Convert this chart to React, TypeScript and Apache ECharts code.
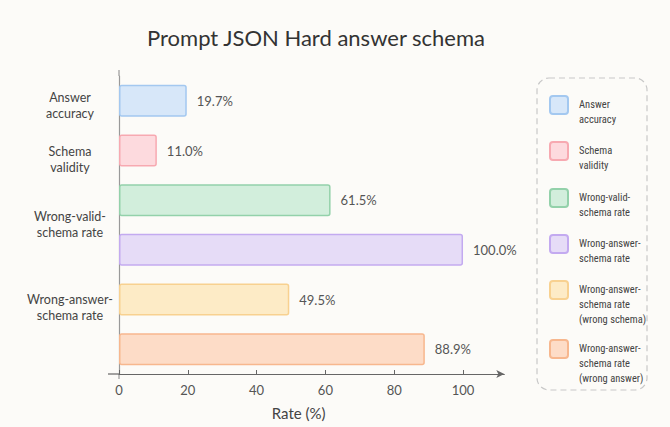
import React, { useEffect, useRef } from "react";
import * as echarts from "echarts";

const categories = [
  "Answer accuracy",
  "Schema validity",
  "Wrong-valid-schema rate",
  "Wrong-answer-schema rate",
  "Wrong-answer-schema rate (wrong schema)",
  "Wrong-answer-schema rate (wrong answer)",
];
const values = [19.7, 11.0, 61.5, 100.0, 49.5, 88.9];
const yTickLabels = [
  ["Answer", "accuracy"],
  ["Schema", "validity"],
  ["Wrong-valid-", "schema rate"],
  [],
  ["Wrong-answer-", "schema rate"],
  [],
];
const legendLabels = [
  ["Answer", "accuracy"],
  ["Schema", "validity"],
  ["Wrong-valid-", "schema rate"],
  ["Wrong-answer-", "schema rate"],
  ["Wrong-answer-", "schema rate", "(wrong schema)"],
  ["Wrong-answer-", "schema rate", "(wrong answer)"],
];
const xTicks = [0, 20, 40, 60, 80, 100];

const fills = ["#d7e7f9", "#fddade", "#d2eedc", "#e6dcf7", "#fdebc6", "#fddcc7"];
const borders = ["#a3c8f0", "#f7a9b1", "#93d1aa", "#c3aaf0", "#f8d190", "#f7b78e"];
const labelShift = [5, 9, 24, 0, 8, 0];
const legendIconTops = [95, 141, 188, 234, 280, 339];

const FONT = "Lato, 'Noto Sans', sans-serif";
const NARROW =
  "'Noto Sans Condensed', 'Roboto Condensed', 'Open Sans Condensed', 'DejaVu Sans Condensed', Lato, sans-serif";

function iconPath(h: number) {
  return (
    "path://M3,0 L15,0 Q18,0 18,3 L18,15 Q18,18 15,18 L3,18 Q0,18 0,15 L0,3 Q0,0 3,0 Z M24," + h
  );
}

export default function App() {
  const ref = useRef<HTMLDivElement>(null);
  useEffect(() => {
    document.body.style.margin = "0";
    if (!ref.current) return;
    const chart = echarts.init(ref.current, undefined, { renderer: "svg" });
    const lineH = 15;
    const legends = categories.map((name, i) => {
      const n = legendLabels[i].length;
      const h = lineH * n + 1.5;
      return {
        orient: "vertical",
        left: 549,
        top: legendIconTops[i],
        padding: 0,
        itemWidth: 24,
        itemHeight: h,
        itemGap: 0,
        icon: iconPath(h),
        selectedMode: false,
        formatter: (nm: string) => legendLabels[categories.indexOf(nm)].join("\n"),
        textStyle: { fontSize: 10.5, lineHeight: lineH, color: "#444", fontFamily: NARROW },
        data: [name],
      };
    });
    const series = categories.map((name, i) => ({
      type: "bar",
      name,
      stack: "all",
      barWidth: 32,
      data: categories.map((_, j) => (j === i ? values[i] : "-")),
      itemStyle: { color: fills[i], borderColor: borders[i], borderWidth: 1.5, borderRadius: 2 },
      label: {
        show: true,
        position: "right",
        distance: 10,
        formatter: (p: any) => Number(p.value).toFixed(1) + "%",
        fontSize: 13,
        color: "#555",
        fontFamily: FONT,
      },
    }));
    const rich: Record<string, any> = {
      l: { fontSize: 12.5, lineHeight: 16, color: "#444", align: "center", fontFamily: FONT },
    };
    labelShift.forEach((s, i) => {
      rich["s" + i] = { fontSize: 1, lineHeight: Math.max(1, s * 2), align: "center" };
    });
    chart.setOption({
      animation: false,
      backgroundColor: "#fcfbf8",
      textStyle: { fontFamily: FONT },
      title: {
        text: "Prompt JSON Hard answer schema",
        left: 142,
        top: 21,
        padding: 5,
        textStyle: { fontSize: 22, fontWeight: "normal", color: "#333", fontFamily: FONT },
      },
      legend: legends,
      grid: {
        left: 119,
        right: 165.7,
        top: 76,
        bottom: 53,
        containLabel: false,
        outerBoundsMode: "none",
      },
      xAxis: {
        type: "value",
        min: 0,
        max: 112,
        name: "Rate (%)",
        nameLocation: "middle",
        nameGap: 31,
        nameTextStyle: { fontSize: 15, color: "#444", padding: [0, 26, 0, 0], fontFamily: FONT },
        axisLine: {
          show: true,
          lineStyle: { color: "#666", width: 1.2 },
          symbol: ["none", "arrow"],
          symbolSize: [6, 8],
        },
        axisTick: { show: true, inside: true, length: 4, customValues: xTicks, lineStyle: { color: "#666" } },
        axisLabel: { customValues: xTicks, fontSize: 13, color: "#555", margin: 9, fontFamily: FONT },
        splitLine: { show: false },
      },
      yAxis: {
        type: "category",
        inverse: true,
        data: categories,
        axisLine: { show: true, lineStyle: { color: "#999", width: 1.2 } },
        axisTick: { show: false },
        axisLabel: {
          interval: 0,
          align: "center",
          margin: 49,
          fontFamily: FONT,
          rich,
          formatter: (_v: string, idx: number) => {
            const lines = yTickLabels[idx];
            if (!lines.length) return "";
            return ["{s" + idx + "| }", ...lines.map((t) => "{l|" + t + "}")].join("\n");
          },
        },
      },
      graphic: [
        {
          type: "rect",
          shape: { x: 537, y: 78, width: 110, height: 312, r: 12 },
          style: { fill: "transparent", stroke: "#c8c8c8", lineWidth: 1.2, lineDash: [6, 4] },
          z: -1,
        },
        {
          type: "line",
          shape: { x1: 108, y1: 374, x2: 119, y2: 374 },
          style: { stroke: "#666", lineWidth: 1.2 },
        },
        {
          type: "line",
          shape: { x1: 119, y1: 70, x2: 119, y2: 76 },
          style: { stroke: "#999", lineWidth: 1.2 },
        },
        {
          type: "line",
          shape: { x1: 119, y1: 374, x2: 119, y2: 379 },
          style: { stroke: "#999", lineWidth: 1.2 },
        },
      ],
      series,
    });
    return () => chart.dispose();
  }, []);
  return <div ref={ref} style={{ width: 670, height: 427 }} />;
}
